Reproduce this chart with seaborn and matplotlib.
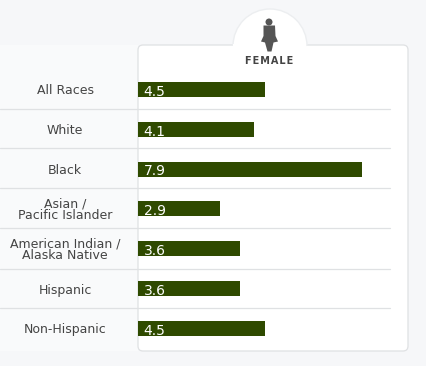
import matplotlib
matplotlib.use("Agg")
import matplotlib.pyplot as plt
from matplotlib.patches import Arc, Circle, FancyBboxPatch, Polygon, Rectangle, Wedge
import seaborn as sns
import pandas as pd

categories = ["All Races", "White", "Black", "Asian /\nPacific Islander",
              "American Indian /\nAlaska Native", "Hispanic", "Non-Hispanic"]
rates = [4.5, 4.1, 7.9, 2.9, 3.6, 3.6, 4.5]
group_label = "FEMALE"

W, H = 427, 366
BG = "#f6f7f9"
LINE = "#dfe1e3"
TXT = "#444444"

sns.set_theme(style="white")
plt.rcParams["font.family"] = ["DejaVu Sans"]

fig = plt.figure(figsize=(W / 100, H / 100), dpi=100, facecolor=BG)

# background layer in pixel coords: panel, tab, icon, row lines
bg = fig.add_axes([0, 0, 1, 1])
bg.set_xlim(0, W)
bg.set_ylim(H, 0)
bg.axis("off")
bg.add_patch(Rectangle((0, 45), 138, 306, fc="#f9fafb", ec="none"))
bg.add_patch(FancyBboxPatch((143, 50), 260, 296, boxstyle="round,pad=5,rounding_size=5",
                            fc="white", ec=LINE, lw=0.9))
# y axis is flipped here so the upper half of the tab is theta 180-360
bg.add_patch(Wedge((270, 46), 37, 180, 360, fc="white", ec="none", zorder=2))
bg.add_patch(Arc((270, 46), 74, 74, theta1=180, theta2=360, color="#eceef0", lw=1, zorder=2))
bg.add_patch(Rectangle((233.5, 44), 73, 6, fc="white", ec="none", zorder=3))
for yy in [109, 148, 188, 228, 269, 308]:
    bg.plot([0, 390], [yy, yy], color=LINE, lw=0.9, zorder=2)

# icon
icon = "#555555"
bg.add_patch(Circle((269, 22), 3.5, fc=icon, ec="none", zorder=4))
bg.add_patch(Polygon([(263.5, 25.5), (275, 25.5), (275.5, 36), (278, 41.5), (273.5, 42.5),
                      (271.5, 51.5), (267.5, 51.5), (265, 42.5), (261, 41.5), (263.5, 36)],
                     fc=icon, ec="none", zorder=4))
bg.text(269, 60.5, "\u200a".join(group_label), ha="center", va="center", fontsize=7,
        fontweight="bold", color=TXT, zorder=4)

# bars
df = pd.DataFrame({"group": categories, "rate": rates})
ax = fig.add_axes([138 / W, 1 - 351 / H, 270 / W, 306 / H])
ax.patch.set_alpha(0)
sns.barplot(data=df, x="rate", y="group", orient="h", color="#2f4a00", saturation=1,
            width=0.377, linewidth=0, ax=ax)
ax.set_xlim(0, 270 / 28.3)
ax.set_ylim(6.57, -1.118)
sns.despine(ax=ax, left=True, bottom=True)
ax.set_xlabel("")
ax.set_ylabel("")
ax.set_xticks([])
ax.tick_params(axis="y", length=0, pad=52.5)
for lab in ax.get_yticklabels():
    lab.set_ha("center")
    lab.set_fontsize(9)
    lab.set_color(TXT)
    lab.set_linespacing(0.85)

for i, v in enumerate(rates):
    ax.text(0.2, i + 0.06, f"{v}", color="white", fontsize=10, ha="left", va="center")

fig.savefig("out.png", dpi=100, facecolor=BG)
